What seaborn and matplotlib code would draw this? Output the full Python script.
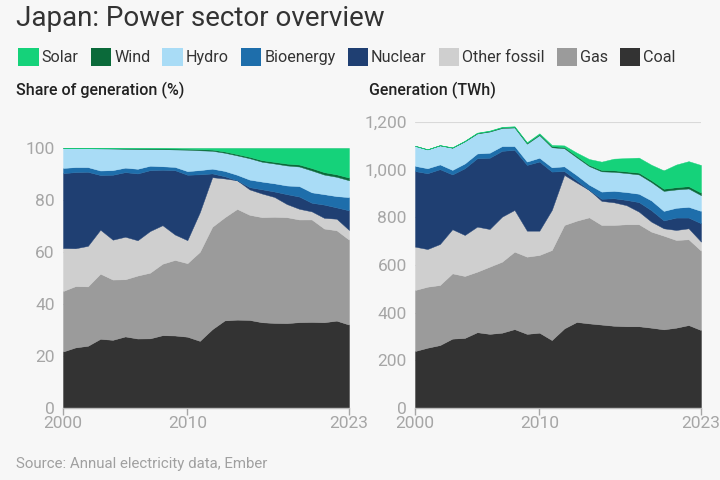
import matplotlib
matplotlib.use('Agg')
import numpy as np
import pandas as pd
import matplotlib.pyplot as plt
import seaborn as sns
from matplotlib.patches import Patch
from matplotlib.ticker import FuncFormatter

# Japan electricity generation by source, TWh
years = list(range(2000, 2024))
coal = [239, 253, 264, 291, 294, 318, 311, 316, 331, 311, 316, 285,
        334, 361, 355, 350, 345, 343, 343, 337, 330, 337, 348, 327]
gas = [256, 256, 252, 274, 260, 254, 282, 298, 325, 324, 326, 378,
       434, 425, 445, 418, 423, 428, 428, 403, 393, 368, 360, 333]
other_fossil = [182, 158, 172, 185, 172, 189, 158, 189, 175, 109, 102, 168,
                210, 160, 115, 101, 95, 80, 53, 42, 31, 42, 46, 38]
nuclear = [317, 318, 314, 230, 280, 287, 299, 276, 252, 276, 290, 161,
           16, 9, 0, 9, 17, 22, 40, 48, 33, 52, 45, 77]
bioenergy = [22, 21, 20, 19, 20, 20, 21, 20, 16, 14, 16, 18,
             20, 22, 22, 30, 31, 33, 35, 41, 40, 41, 45, 52]
hydro = [84, 79, 80, 93, 93, 84, 89, 76, 78, 75, 95, 84,
         76, 75, 78, 85, 80, 80, 81, 77, 84, 77, 77, 66]
wind = [0.1, 0.3, 0.5, 0.9, 1.3, 1.8, 2.2, 2.6, 2.9, 3.6, 4.0, 4.6,
        4.8, 5.2, 5.2, 5.6, 6.2, 6.5, 7.5, 7.7, 9.0, 9.4, 9.7, 10.5]
solar = [0.3, 0.4, 0.6, 0.8, 1.1, 1.5, 1.8, 2.0, 2.2, 2.6, 3.5, 5.2,
         6.9, 14.3, 24.5, 35, 49, 56, 63, 65, 77, 95, 105, 116]

sources = ["Coal", "Gas", "Other fossil", "Nuclear", "Bioenergy", "Hydro", "Wind", "Solar"]
colors = {"Coal": "#333333", "Gas": "#9b9b9b", "Other fossil": "#cfcfcf",
          "Nuclear": "#1f3f72", "Bioenergy": "#1e6eab", "Hydro": "#a9dcf6",
          "Wind": "#0b6a3a", "Solar": "#15d27a"}

df = pd.DataFrame({"Coal": coal, "Gas": gas, "Other fossil": other_fossil,
                   "Nuclear": nuclear, "Bioenergy": bioenergy, "Hydro": hydro,
                   "Wind": wind, "Solar": solar}, index=years)
share = df.div(df.sum(axis=1), axis=0) * 100

sns.set_theme(style="white")
plt.rcParams['font.family'] = ['Roboto', 'DejaVu Sans']
bg = "#f7f7f7"
tick_col = "#a6a6a6"

fig = plt.figure(figsize=(7.2, 4.8), dpi=100, facecolor=bg)
ax1 = fig.add_axes([63 / 720, 72 / 480, 286 / 720, 260 / 480])
ax2 = fig.add_axes([415 / 720, 72 / 480, 286 / 720, 286 / 480])

pal = [colors[s] for s in sources]


def draw(ax, data, ymax, yticks, fmt):
    ax.set_facecolor(bg)
    for y in yticks:
        ax.axhline(y, color="#d9d9d9", lw=0.8, zorder=0)
    polys = ax.stackplot(data.index, [data[s] for s in sources], colors=pal,
                         linewidth=0.3, zorder=2)
    for p, c in zip(polys, pal):
        p.set_edgecolor(c)
    ax.set_xlim(2000, 2023)
    ax.set_ylim(0, ymax)
    ax.set_xticks([2000, 2010, 2023])
    ax.set_yticks(yticks)
    ax.yaxis.set_major_formatter(FuncFormatter(fmt))
    sns.despine(ax=ax, left=True, top=True, right=True)
    ax.spines['bottom'].set_color("#bdbdbd")
    ax.spines['bottom'].set_linewidth(1.0)
    ax.spines['bottom'].set_zorder(3)
    ax.tick_params(axis='x', colors=tick_col, labelsize=12.5, length=5,
                   width=1, direction='out', pad=1, bottom=True)
    ax.tick_params(axis='y', colors=tick_col, labelsize=12.5, length=0, pad=6)
    ax.grid(False)


draw(ax1, share, 100, [0, 20, 40, 60, 80, 100], lambda v, p: f"{v:.0f}")
draw(ax2, df, 1200, [0, 200, 400, 600, 800, 1000, 1200], lambda v, p: f"{v:,.0f}")

fig.text(16 / 720, 1 - 18 / 480, "Japan: Power sector overview", fontsize=20,
         color="#333333", va="center", ha="left")

handles = [Patch(facecolor=colors[s], edgecolor="none", label=s) for s in sources[::-1]]
fig.legend(handles=handles, loc="center left", bbox_to_anchor=(12 / 720, 1 - 57 / 480),
           ncol=8, frameon=False, fontsize=11.6, handlelength=1.25, handleheight=1.25,
           handletextpad=0.2, columnspacing=0.75, labelcolor="#333333", borderaxespad=0)

fig.text(16 / 720, 1 - 90 / 480, "Share of generation (%)", fontsize=11.5,
         color="#222222", va="center", ha="left", fontweight="medium")
fig.text(369 / 720, 1 - 90 / 480, "Generation (TWh)", fontsize=11.5,
         color="#222222", va="center", ha="left", fontweight="medium")
fig.text(16 / 720, 1 - 464 / 480, "Source: Annual electricity data, Ember", fontsize=10.8,
         color="#a0a0a0", va="center", ha="left")

fig.savefig("out.png", dpi=100, facecolor=bg)
